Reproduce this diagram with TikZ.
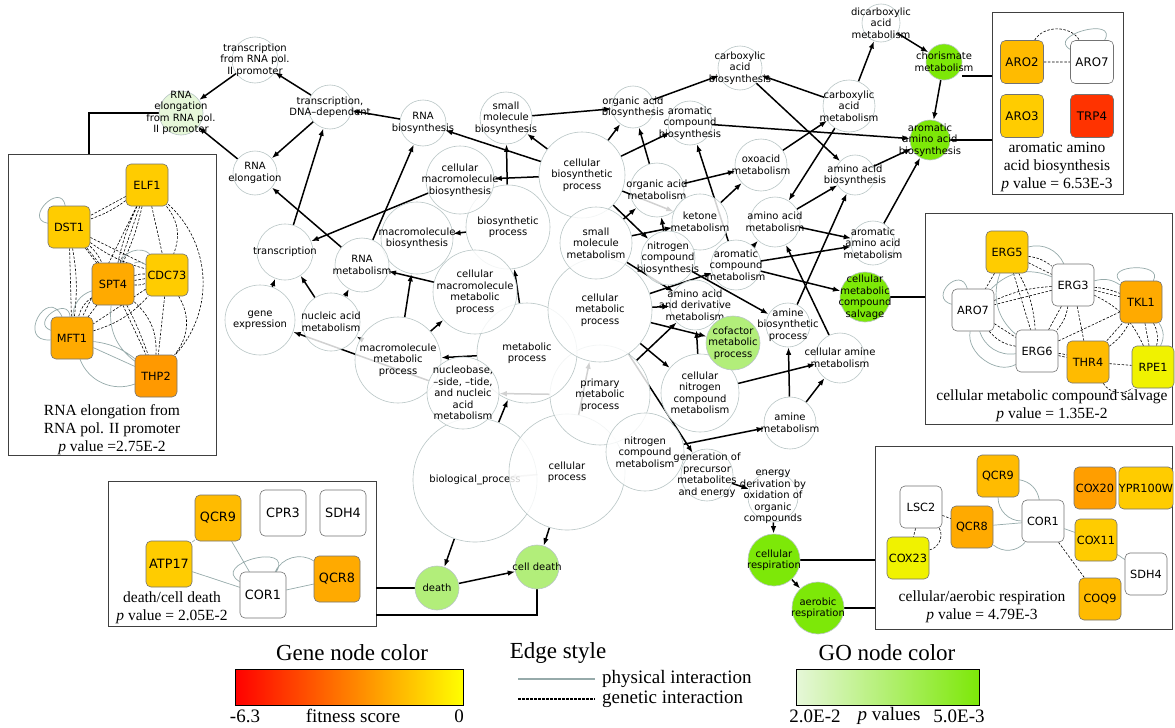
\documentclass[tikz,border=0pt]{standalone}
\usepackage{fontspec}
\setmainfont{Liberation Serif}
\newfontfamily\gofont{DejaVu Sans}
\usepackage{tikz}
\usetikzlibrary{arrows.meta,positioning,calc}

\pgfdeclarelayer{frames}
\pgfdeclarelayer{edges}
\pgfsetlayers{frames,edges,main}

\definecolor{circline}{RGB}{185,198,198}
\definecolor{physcol}{RGB}{150,170,170}
\definecolor{goPale}{RGB}{230,247,217}
\definecolor{goLight}{RGB}{178,238,122}
\definecolor{goMid}{RGB}{170,248,80}
\definecolor{goFull}{RGB}{125,232,8}
\definecolor{gYel}{RGB}{240,242,0}
\definecolor{gGold}{RGB}{255,204,0}
\definecolor{gAmber}{RGB}{255,187,0}
\definecolor{gOrange}{RGB}{255,170,0}
\definecolor{gDeep}{RGB}{255,153,0}
\definecolor{gRed}{RGB}{255,51,0}
\definecolor{gbarmid}{RGB}{255,165,0}

\begin{document}
\begin{tikzpicture}[
    x=1pt, y=1pt, >={Latex[length=7.5pt,width=5.5pt]},
    go/.style={circle, draw=circline, line width=0.6pt, fill=white,
        fill opacity=0.82, inner sep=0pt, minimum size=#1},
    go/.default=44pt,
    gotext/.style={align=center, inner sep=0pt, fill opacity=1, text opacity=1,
        font=\gofont\fontsize{10}{11.5}\selectfont},
    hit/.style={fill=#1, fill opacity=1},
    arr/.style={->, line width=1.5pt},
    link/.style={line width=1.3pt},
    gene/.style={rectangle, rounded corners=5pt, draw=black!55, line width=0.6pt,
        minimum size=42pt, inner sep=0pt, font=\gofont\fontsize{11.3}{13}\selectfont},
    midgene/.style={gene, minimum size=43pt, font=\gofont\fontsize{11.8}{13}\selectfont},
    biggene/.style={gene, minimum size=46pt, font=\gofont\fontsize{12.8}{14}\selectfont},
    phys/.style={draw=physcol, line width=0.7pt},
    genet/.style={draw=black, line width=0.6pt, dash pattern=on 2.5pt off 1.6pt},
    frame/.style={rectangle, draw=black!75, line width=0.9pt, fill=white, inner sep=0pt},
    capt/.style={align=center, font=\fontsize{15.5}{18}\selectfont},
    legtitle/.style={font=\fontsize{23}{26}\selectfont},
    legtext/.style={inner sep=1pt, font=\fontsize{19}{21}\selectfont},
    bar/.style={draw=black, line width=0.8pt, minimum height=36pt, inner sep=0pt}
  ]
  \useasboundingbox (0,0) rectangle (1175,-728);

  % inset frames
  \begin{pgfonlayer}{frames}
    \fill[white] (0,0) rectangle (1175,-728);
    \node[frame, minimum width=208pt, minimum height=301pt] (fRNA)   at (112,-304.5)  {};
    \node[frame, minimum width=131pt, minimum height=182pt] (fARO)   at (1057.5,-103) {};
    \node[frame, minimum width=247pt, minimum height=211pt] (fSALV)  at (1048.5,-318.5) {};
    \node[frame, minimum width=268pt, minimum height=145pt] (fDEATH) at (242,-553.5)  {};
    \node[frame, minimum width=297pt, minimum height=183pt] (fRESP)  at (1023.5,-537.5) {};
  \end{pgfonlayer}

  % GO terms, large ones first
  \node[go=124pt, label={[gotext]center:{biological\_process}}] (bp) at (475,-480) {};
  \node[go=116pt, label={[gotext]center:{cellular\\process}}] (cp) at (567,-472) {};
  \node[go=100pt, label={[gotext]center:{primary\\metabolic\\process}}] (pmp) at (600,-395) {};
  \node[go=100pt, label={[gotext]center:{metabolic\\process}}] (mp) at (527,-353) {};
  \node[go=104pt, label={[gotext]center:{cellular\\metabolic\\process}}] (cmp) at (600,-310) {};
  \node[go=86pt, label={[gotext]center:{cellular\\biosynthetic\\process}}] (cbp) at (582,-175) {};
  \node[go=84pt, label={[gotext]center:{biosynthetic\\process}}] (bsp) at (508,-227) {};
  \node[go=84pt, label={[gotext]center:{cellular\\macromolecule\\metabolic\\process}}] (cmmp) at (475,-292) {};
  \node[go=86pt, label={[gotext]center:{macromolecule\\metabolic\\process}}] (mmp) at (398,-360) {};
  \node[go=72pt, label={[gotext]center:{nucleobase,\\–side, –tide,\\and nucleic\\acid\\metabolism}}] (nuc) at (463,-393) {};
  \node[go=72pt, label={[gotext]center:{macromolecule\\biosynthesis}}] (mbio) at (417,-238) {};
  \node[go=68pt, label={[gotext]center:{cellular\\macromolecule\\biosynthesis}}] (cmbio) at (460,-180) {};
  \node[go=72pt, label={[gotext]center:{small\\molecule\\metabolism}}] (smm) at (596,-243) {};
  \node[go=78pt, label={[gotext]center:{cellular\\nitrogen\\compound\\metabolism}}] (cncm) at (700,-393) {};
  \node[go=78pt, label={[gotext]center:{nitrogen\\compound\\metabolism}}] (ncm) at (645,-452) {};
  \node[go=46pt, label={[gotext]center:{transcription\\from RNA pol.\\II promoter}}] (tpol) at (255,-60) {};
  \node[go=44pt, hit=goPale, label={[gotext]center:{RNA\\elongation\\from RNA pol.\\II promoter}}] (relpol) at (181,-113) {};
  \node[go=44pt, label={[gotext]center:{transcription,\\DNA–dependent}}] (tdna) at (330,-107) {};
  \node[go=44pt, label={[gotext]center:{RNA\\elongation}}] (rel) at (255,-173) {};
  \node[go=46pt, label={[gotext]center:{RNA\\biosynthesis}}] (rbio) at (423,-123) {};
  \node[go=52pt, label={[gotext]center:{small\\molecule\\biosynthesis}}] (smbio) at (506,-118) {};
  \node[go=42pt, label={[gotext]center:{organic acid\\biosynthesis}}] (oabio) at (633,-107) {};
  \node[go=44pt, label={[gotext]center:{aromatic\\compound\\biosynthesis}}] (acbio) at (690,-123) {};
  \node[go=54pt, label={[gotext]center:{organic acid\\metabolism}}] (oam) at (657,-190) {};
  \node[go=44pt, label={[gotext]center:{carboxylic\\acid\\biosynthesis}}] (cabio) at (740,-68) {};
  \node[go=38pt, label={[gotext]center:{dicarboxylic\\acid\\metabolism}}] (dcam) at (881,-23) {};
  \node[go=52pt, label={[gotext]center:{carboxylic\\acid\\metabolism}}] (cam) at (849,-106) {};
  \node[go=52pt, label={[gotext]center:{oxoacid\\metabolism}}] (oxo) at (761,-165) {};
  \node[go=40pt, label={[gotext]center:{amino acid\\biosynthesis}}] (aabio) at (855,-175) {};
  \node[go=50pt, label={[gotext]center:{amino acid\\metabolism}}] (aam) at (775,-222) {};
  \node[go=44pt, label={[gotext]center:{aromatic\\amino acid\\metabolism}}] (aaam) at (873,-243) {};
  \node[go=56pt, label={[gotext]center:{ketone\\metabolism}}] (ket) at (700,-222) {};
  \node[go=54pt, label={[gotext]center:{nitrogen\\compound\\biosynthesis}}] (ncbio) at (668,-258) {};
  \node[go=50pt, label={[gotext]center:{aromatic\\compound\\metabolism}}] (acm) at (736,-265) {};
  \node[go=50pt, label={[gotext]center:{amino acid\\and derivative\\metabolism}}] (aadm) at (695,-305) {};
  \node[go=44pt, label={[gotext]center:{amine\\biosynthetic\\process}}] (amb) at (788,-325) {};
  \node[go=50pt, label={[gotext]center:{cellular amine\\metabolism}}] (camm) at (840,-358) {};
  \node[go=52pt, label={[gotext]center:{amine\\metabolism}}] (amm) at (790,-423) {};
  \node[go=52pt, label={[gotext]center:{generation of\\precursor\\metabolites\\and energy}}] (gpm) at (707,-475) {};
  \node[go=50pt, label={[gotext]center:{energy\\derivation by\\oxidation of\\organic\\compounds}}] (edo) at (773,-497) {};
  \node[go=54pt, label={[gotext]center:{RNA\\metabolism}}] (rnam) at (362,-265) {};
  \node[go=56pt, label={[gotext]center:{transcription}}] (trans) at (285,-252) {};
  \node[go=70pt, label={[gotext]center:{gene\\expression}}] (gexp) at (260,-320) {};
  \node[go=58pt, label={[gotext]center:{nucleic acid\\metabolism}}] (nam) at (331,-322) {};
  \node[go=54pt, hit=goLight, label={[gotext]center:{cofactor\\metabolic\\process}}] (cof) at (733,-343) {};
  \node[go=44pt, hit=goLight, label={[gotext]center:{cell death}}] (cdeath) at (537,-567) {};
  \node[go=44pt, hit=goLight, label={[gotext]center:{death}}] (death) at (437,-588) {};
  \node[go=36pt, hit=goFull, label={[gotext]center:{chorismate\\metabolism}}] (chor) at (944,-62) {};
  \node[go=40pt, hit=goFull, label={[gotext]center:{aromatic\\amino acid\\biosynthesis}}] (aaabio) at (930,-140) {};
  \node[go=50pt, hit=goFull, label={[gotext]center:{cellular\\metabolic\\compound\\salvage}}] (salv) at (865,-297) {};
  \node[go=52pt, hit=goFull, label={[gotext]center:{cellular\\respiration}}] (cresp) at (774,-560) {};
  \node[go=52pt, hit=goFull, label={[gotext]center:{aerobic\\respiration}}] (aresp) at (818,-608) {};

  % genes: RNA elongation from RNA pol. II promoter
  \node[gene, fill=gGold]   (elf1)  at (147,-185) {ELF1};
  \node[gene, fill=gGold]   (dst1)  at (69,-227)  {DST1};
  \node[gene, fill=gOrange] (spt4)  at (113,-284) {SPT4};
  \node[gene, fill=gGold]   (cdc73) at (167,-275) {CDC73};
  \node[gene, fill=gOrange] (mft1)  at (72,-338)  {MFT1};
  \node[gene, fill=gDeep]   (thp2)  at (156,-376) {THP2};
  \node[capt] (cRNA) at (112,-430) {RNA elongation from\\RNA pol. II promoter\\\textit{p} value =2.75E-2};

  % genes: aromatic amino acid biosynthesis
  \node[midgene, fill=gAmber] (aro2) at (1022,-62)  {ARO2};
  \node[midgene, fill=white]  (aro7) at (1092,-62)  {ARO7};
  \node[midgene, fill=gGold]  (aro3) at (1022,-116) {ARO3};
  \node[midgene, fill=gRed]   (trp4) at (1092,-116) {TRP4};
  \node[capt] (cARO) at (1057,-167) {aromatic amino\\acid biosynthesis\\\textit{p} value = 6.53E-3};

  % genes: cellular metabolic compound salvage
  \node[gene, fill=gGold]   (erg5)  at (1007,-252) {ERG5};
  \node[gene, fill=white]   (erg3)  at (1073,-285) {ERG3};
  \node[gene, fill=white]   (aro7b) at (973,-310)  {ARO7};
  \node[gene, fill=gOrange] (tkl1)  at (1141,-302) {TKL1};
  \node[gene, fill=white]   (erg6)  at (1037,-351) {ERG6};
  \node[gene, fill=gAmber]  (thr4)  at (1088,-362) {THR4};
  \node[gene, fill=gYel]    (rpe1)  at (1153,-367) {RPE1};
  \node[capt] (cSALV) at (1052,-406) {cellular metabolic compound salvage\\\textit{p} value = 1.35E-2};

  % genes: death/cell death
  \node[biggene, fill=gAmber]  (qcr9a) at (218,-518) {QCR9};
  \node[biggene, fill=white]   (cpr3)  at (283,-513) {CPR3};
  \node[biggene, fill=white]   (sdh4a) at (343,-513) {SDH4};
  \node[biggene, fill=gGold]   (atp17) at (169,-564) {ATP17};
  \node[biggene, fill=gOrange] (qcr8a) at (337,-579) {QCR8};
  \node[biggene, fill=white]   (cor1a) at (263,-595) {COR1};
  \node[capt] (cDEATH) at (172,-608) {death/cell death\\\textit{p} value = 2.05E-2};

  % genes: cellular/aerobic respiration
  \node[gene, fill=gAmber]  (qcr9b) at (998,-476)  {QCR9};
  \node[gene, fill=gDeep!70!gOrange] (cox20) at (1095,-488) {COX20};
  \node[gene, fill=gGold]   (ypr)   at (1146,-488) {YPR100W};
  \node[gene, fill=white]   (lsc2)  at (921,-507)  {LSC2};
  \node[gene, fill=gOrange] (qcr8b) at (972,-527)  {QCR8};
  \node[gene, fill=white]   (cor1b) at (1043,-521) {COR1};
  \node[gene, fill=gGold]   (cox11) at (1096,-540) {COX11};
  \node[gene, fill=gYel]    (cox23) at (908,-558)  {COX23};
  \node[gene, fill=white]   (sdh4b) at (1146,-574) {SDH4};
  \node[gene, fill=gAmber]  (coq9)  at (1100,-599) {COQ9};
  \node[capt] (cRESP) at (982,-607) {cellular/aerobic respiration\\\textit{p} value = 4.79E-3};

  \begin{pgfonlayer}{edges}
    % GO hierarchy
    \draw[arr] (tdna) -- (tpol);
    \draw[arr] (tpol) -- (relpol);
    \draw[arr] (rel) -- (relpol);
    \draw[arr] (tdna) -- (rel);
    \draw[arr] (rbio) -- (tdna);
    \draw[arr] (trans) -- (tdna);
    \draw[arr] (rnam) -- (rel);
    \draw[arr] (rnam) -- (rbio);
    \draw[arr] (cmbio) -- (trans);
    \draw[arr] (nam) -- (trans);
    \draw[arr] (gexp) -- (trans);
    \draw[arr] (nam) -- (rnam);
    \draw[arr] (cmmp) -- (rnam);
    \draw[arr] (mmp) -- (mbio);
    \draw[arr] (mmp) -- (cmmp);
    \draw[arr] (mmp) -- (nam);
    \draw[arr] (mp) -- (mmp);
    \draw[arr] (mp) -- (bsp);
    \draw[arr] (bsp) -- (mbio);
    \draw[arr] (bsp) -- (smbio);
    \draw[arr] (cbp) -- (rbio);
    \draw[arr] (cbp) -- (smbio);
    \draw[arr] (cbp) -- (cmbio);
    \draw[arr] (cbp) -- (oabio);
    \draw[arr] (cbp) -- (acbio);
    \draw[arr] (cbp) -- (ncbio);
    \draw[arr] (cbp) -- (ket);
    \draw[arr] (smbio) -- (oabio);
    \draw[arr] (oam) -- (oabio);
    \draw[arr] (oabio) -- (cabio);
    \draw[arr] (cam) -- (cabio);
    \draw[arr] (cam) -- (dcam);
    \draw[arr] (dcam) -- (chor);
    \draw[arr] (chor) -- (aaabio);
    \draw[arr] (acbio) -- (aaabio);
    \draw[arr] (cabio) -- (aabio);
    \draw[arr] (aabio) -- (aaabio);
    \draw[arr] (oxo) -- (cam);
    \draw[arr] (cam) -- (aam);
    \draw[arr] (oam) -- (oxo);
    \draw[arr] (ket) -- (oxo);
    \draw[arr] (acm) -- (acbio);
    \draw[arr] (aam) -- (aabio);
    \draw[arr] (aam) -- (aaam);
    \draw[arr] (aaam) -- (aaabio);
    \draw[arr] (acm) -- (aam);
    \draw[arr] (acm) -- (aaam);
    \draw[arr] (acm) -- (salv);
    \draw[arr] (amb) -- (aabio);
    \draw[arr] (camm) -- (aam);
    \draw[arr] (smm) -- (aadm);
    \draw[arr] (smm) -- (ket);
    \draw[arr] (smm) -- (oam);
    \draw[arr] (ncbio) -- (oam);
    \draw[arr] (ncbio) -- (amb);
    \draw[arr] (cmp) -- (acm);
    \draw[arr] (cmp) -- (aadm);
    \draw[arr] (cmp) -- (cof);
    \draw[arr] (cmp) -- (cncm);
    \draw[arr] (cmp) -- (gpm);
    \draw[arr] (cncm) -- (aadm);
    \draw[arr] (pmp) -- (aadm);
    \draw[arr] (pmp) -- (nuc);
    \draw[arr] (nuc) -- (gexp);
    \draw[arr] (amm) -- (amb);
    \draw[arr] (amm) -- (camm);
    \draw[arr] (cncm) -- (camm);
    \draw[arr] (ncm) -- (amm);
    \draw[arr] (gpm) -- (edo);
    \draw[arr] (edo) -- (cresp);
    \draw[arr] (cresp) -- (aresp);
    \draw[arr] (bp) -- (mp);
    \draw[arr] (bp) -- (cp);
    \draw[arr] (cp) -- (cmp);
    \draw[arr] (bp) -- (death);
    \draw[arr] (cp) -- (cdeath);
    \draw[arr] (death) -- (cdeath);

    % links to the insets
    \draw[link] (relpol.west) -| ([xshift=-23pt]fRNA.north);
    \draw[link] ([yshift=-14pt]chor.east) -- ([yshift=-14pt]chor.east -| fARO.west);
    \draw[link] (aaabio.east) -- (aaabio.east -| fARO.west);
    \draw[link] (salv.east) -- (salv.east -| fSALV.west);
    \draw[link] (death.west) -- (death.west -| fDEATH.east);
    \draw[link] (cdeath.south) |- ([yshift=-61.5pt]fDEATH.east);
    \draw[link] (cresp.east) -- (cresp.east -| fRESP.west);
    \draw[link] (aresp.east) -- (aresp.east -| fRESP.west);

    % interactions: RNA elongation
    \draw[genet] (elf1) -- (dst1) (elf1) to[bend left=8] (dst1)
      (elf1) -- (spt4) (elf1) to[bend left=6] (spt4) (elf1) to[bend right=6] (spt4)
      (elf1) -- (cdc73) (elf1) to[bend left=30] (cdc73)
      (elf1) to[bend left=45] (thp2) (elf1) -- (mft1)
      (dst1) -- (spt4) (dst1) to[bend left=10] (spt4)
      (dst1) -- (cdc73) (dst1) to[bend right=10] (cdc73)
      (dst1) -- (mft1) (dst1) to[bend left=8] (mft1)
      (dst1) to[bend left=10] (thp2)
      (spt4) -- (cdc73) (spt4) to[bend left=12] (cdc73) (spt4) to[bend right=12] (cdc73)
      (spt4) -- (mft1) (spt4) to[bend right=20] (mft1)
      (spt4) -- (thp2) (spt4) to[bend left=25] (thp2)
      (cdc73) -- (thp2) (cdc73) to[bend left=35] (thp2)
      (cdc73) -- (mft1) (mft1) to[bend right=15] (cdc73);
    \draw[phys] (dst1) to[out=170,in=100,loop,min distance=25pt] (dst1)
      (mft1) to[out=185,in=115,loop,min distance=35pt] (mft1)
      (mft1) to[out=160,in=95,loop,min distance=22pt] (mft1)
      (mft1) -- (thp2) (mft1) to[bend right=45] (thp2) (mft1) to[bend left=15] (thp2)
      (spt4) to[bend left=60] (cdc73) (spt4) to[bend left=35] (cdc73)
      (mft1) to[bend left=35] (spt4)
      (spt4) to[bend right=30] (thp2);

    % interactions: aromatic amino acid biosynthesis
    \draw[genet] (aro2) -- (aro7) (aro2) to[bend left=60] (aro7);
    \draw[phys] (aro7) to[out=150,in=60,loop,min distance=28pt] (aro7);

    % interactions: salvage
    \draw[genet] (erg5) -- (erg3) (erg5) to[bend left=15] (erg3)
      (erg5) -- (aro7b) (erg5) -- (erg6) (erg5) to[bend left=12] (erg6)
      (erg3) -- (aro7b) (erg3) to[bend right=10] (aro7b)
      (erg3) -- (erg6) (erg3) to[bend left=15] (erg6)
      (aro7b) -- (erg6) (aro7b) to[bend right=20] (erg6)
      (erg3) -- (tkl1) (erg3) to[bend left=8] (tkl1)
      (erg3) -- (thr4) (erg3) to[bend left=20] (rpe1)
      (erg6) -- (thr4) (erg6) to[bend left=6] (thr4)
      (erg6) -- (tkl1) (thr4) -- (tkl1) (thr4) to[bend right=12] (tkl1)
      (thr4) -- (rpe1) (thr4) to[bend right=50] (rpe1)
      (tkl1) -- (rpe1) (tkl1) to[bend left=20] (rpe1);
    \draw[phys] (aro7b) to[out=165,in=105,loop,min distance=25pt] (aro7b)
      (tkl1) to[out=135,in=60,loop,min distance=22pt] (tkl1)
      (erg5) to[bend left=40] (erg3)
      (aro7b) to[bend right=40] (erg6) (aro7b) to[bend right=65] (erg6)
      (erg5) to[bend right=35] (erg6)
      (aro7b) to[bend left=35] (erg3)
      (erg3) to[bend left=25] (tkl1)
      (tkl1) to[bend left=30] (rpe1);

    % interactions: death/cell death
    \draw[phys] (qcr9a) -- (cor1a) (atp17) -- (cor1a) (qcr8a) -- (cor1a) (qcr9a) -- (atp17)
      (cor1a) to[out=150,in=60,loop,min distance=35pt] (cor1a)
      (cor1a) to[bend left=50] (qcr8a);

    % interactions: respiration
    \draw[genet] (lsc2) -- (qcr8b) (lsc2) -- (cox23) (lsc2) to[bend left=55] (cox23)
      (cor1b) -- (coq9);
    \draw[phys] (qcr8b) -- (cor1b) (qcr9b) to[bend left=35] (cor1b)
      (qcr9b) to[bend right=45] (cor1b) (qcr8b) to[bend right=45] (cor1b)
      (cor1b) -- (cox11) (cox11) -- (sdh4b);
  \end{pgfonlayer}

  % legend
  \node[legtitle] (gtitle) at (352,-653) {Gene node color};
  \node[bar, minimum width=228pt, left color=red, middle color=gbarmid, right color=yellow] (gbar) at (349,-687) {};
  \node[legtext] (gmin) at (245,-716) {-6.3};
  \node[legtext] (gfit) at (353,-716) {fitness score};
  \node[legtext] (gmax) at (459,-716) {0};

  \node[legtitle] (etitle) at (558,-653) {Edge style};
  \node[legtext, anchor=west] (ephys) at (601,-679) {physical interaction};
  \node[legtext, anchor=west] (egen)  at (601,-699) {genetic interaction};
  \draw[phys, line width=2pt] ([xshift=-83pt]ephys.west) -- ([xshift=-6pt]ephys.west);
  \draw[line width=1.6pt, dash pattern=on 2.5pt off 1.5pt] ([xshift=-83pt]egen.west) -- ([xshift=-6pt]egen.west);

  \node[legtitle] (otitle) at (887,-653) {GO node color};
  \node[bar, minimum width=183pt, left color=goPale, middle color=goMid, right color=goFull] (obar) at (887.5,-687) {};
  \node[legtext] (omin) at (815,-716) {2.0E-2};
  \node[legtext] (opv)  at (889,-716) {\textit{p} values};
  \node[legtext] (omax) at (959,-716) {5.0E-3};
\end{tikzpicture}
\end{document}
